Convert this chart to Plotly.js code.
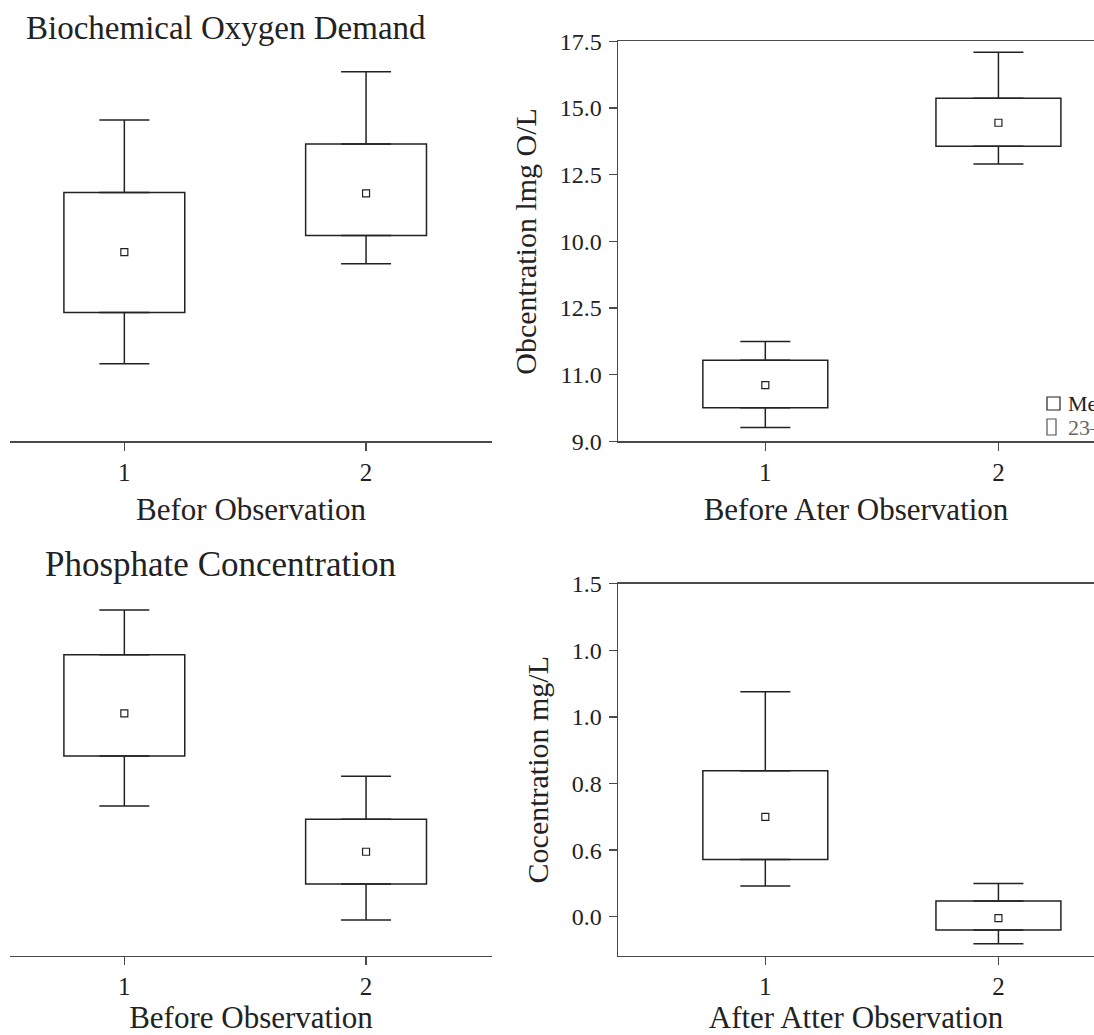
<!DOCTYPE html>
<html>
<head>
<meta charset="utf-8">
<script src="https://cdn.plot.ly/plotly-3.0.1.min.js"></script>
<style>
html,body{margin:0;padding:0;overflow:hidden;background:#fff;}
#chart{width:1094px;height:1035px;}
</style>
</head>
<body>
<div id="chart"></div>
<script>
// ---- data ----
const groups = [1, 2];

// Top-left: Biochemical Oxygen Demand (no y axis shown)
const bodBeforeUpper = [12.05, 13.86];
const bodBeforeQ3    = [9.33, 11.15];
const bodBeforeMean  = [7.10, 9.30];
const bodBeforeQ1    = [4.83, 7.72];
const bodBeforeLower = [2.91, 6.66];

// Top-right: Obcentration lmg O/L (axis positions)
const bodAfterUpper = [6.25, 17.09];
const bodAfterQ3    = [5.54, 15.37];
const bodAfterMean  = [4.61, 14.45];
const bodAfterQ1    = [3.76, 13.57];
const bodAfterLower = [3.02, 12.90];
const bodTickVals   = [2.5, 5, 7.5, 10, 12.5, 15, 17.5];
const bodTickText   = ["9.0", "11.0", "12.5", "10.0", "12.5", "15.0", "17.5"];

// Bottom-left: Phosphate Concentration (no y axis shown)
const phBeforeUpper = [1.859, 0.965];
const phBeforeQ3    = [1.618, 0.733];
const phBeforeMean  = [1.303, 0.559];
const phBeforeQ1    = [1.074, 0.385];
const phBeforeLower = [0.805, 0.192];

// Bottom-right: Cocentration mg/L (axis positions)
const phAfterUpper = [1.0135, 0.150];
const phAfterQ3    = [0.658, 0.0707];
const phAfterMean  = [0.450, -0.006];
const phAfterQ1    = [0.2583, -0.060];
const phAfterLower = [0.138, -0.1216];
const phTickVals   = [0, 0.3, 0.6, 0.9, 1.2, 1.5];
const phTickText   = ["0.0", "0.6", "0.8", "1.0", "1.0", "1.5"];

const xTickText = ["1", "2"];
const legendLabels = ["Mean", "23–75%"];

// ---- styling ----
const FONT = "Liberation Serif, Times New Roman, serif";
const INK = "#222";
const AX = "#4a4a4a";
const LW = 1.5;
const W = 1094, H = 1035;

// box body (q1..q3) as an outlined bar, whiskers as error bars, mean as a marker
function boxPlot(xa, ya, q1, q3, lo, hi, mean, boxW, capHalf) {
  const zeros = q1.map(() => 0);
  const body = {
    type: "bar", xaxis: xa, yaxis: ya, x: groups,
    base: q1, y: q3.map((v, i) => v - q1[i]), width: boxW,
    marker: {color: "rgba(255,255,255,0)", line: {color: INK, width: LW}},
    showlegend: false, hoverinfo: "skip"
  };
  const upperWhisker = {
    type: "scatter", mode: "markers", xaxis: xa, yaxis: ya, x: groups, y: q3,
    marker: {size: 1, opacity: 0},
    error_y: {type: "data", symmetric: false, array: hi.map((v, i) => v - q3[i]), arrayminus: zeros,
              width: capHalf, thickness: LW, color: INK},
    showlegend: false, hoverinfo: "skip"
  };
  const lowerWhisker = {
    type: "scatter", mode: "markers", xaxis: xa, yaxis: ya, x: groups, y: q1,
    marker: {size: 1, opacity: 0},
    error_y: {type: "data", symmetric: false, array: zeros, arrayminus: q1.map((v, i) => v - lo[i]),
              width: capHalf, thickness: LW, color: INK},
    showlegend: false, hoverinfo: "skip"
  };
  const meanPts = {
    type: "scatter", mode: "markers", xaxis: xa, yaxis: ya, x: groups, y: mean,
    marker: {symbol: "square-open", size: 7, color: INK, line: {width: 1.2, color: INK}},
    showlegend: false, hoverinfo: "skip"
  };
  return [body, upperWhisker, lowerWhisker, meanPts];
}

const data = [].concat(
  boxPlot("x",  "y",  bodBeforeQ1, bodBeforeQ3, bodBeforeLower, bodBeforeUpper, bodBeforeMean, 0.5, 25),
  boxPlot("x2", "y2", bodAfterQ1,  bodAfterQ3,  bodAfterLower,  bodAfterUpper,  bodAfterMean,  0.536, 25),
  boxPlot("x3", "y3", phBeforeQ1,  phBeforeQ3,  phBeforeLower,  phBeforeUpper,  phBeforeMean,  0.5, 25),
  boxPlot("x4", "y4", phAfterQ1,   phAfterQ3,   phAfterLower,   phAfterUpper,   phAfterMean,   0.536, 25)
);

const px = v => v / W;
const py = v => 1 - v / H;

const tickFont = {family: FONT, size: 24, color: INK};
const axTitleFont = {family: FONT, size: 31, color: INK};

function xAxis(domain, range, anchor, title, mirror) {
  return {
    domain: domain, range: range, anchor: anchor,
    tickvals: groups, ticktext: xTickText,
    ticks: "outside", ticklen: 8, tickwidth: 1.4, tickcolor: AX,
    showline: true, linecolor: AX, linewidth: 1.5, mirror: mirror,
    showgrid: false, zeroline: false, tickfont: {family: FONT, size: 25, color: INK},
    ticklabelstandoff: 0,
    title: {text: title, font: axTitleFont, standoff: 13},
    fixedrange: true
  };
}
function yHidden(domain, range, anchor) {
  return {domain: domain, range: range, anchor: anchor, visible: false, fixedrange: true};
}
function yAxis(domain, range, anchor, vals, text, title) {
  return {
    domain: domain, range: range, anchor: anchor,
    tickvals: vals, ticktext: text,
    ticks: "outside", ticklen: 8, tickwidth: 1.4, tickcolor: AX,
    showline: true, linecolor: AX, linewidth: 1.5,
    showgrid: false, zeroline: false, tickfont: tickFont,
    ticklabelstandoff: 2,
    title: {text: title, font: {family: FONT, size: 30, color: INK}, standoff: 14},
    fixedrange: true
  };
}

const xLeft = [px(10), px(492)];
const xRight = [px(618), 1];
const yTop = [py(441.4), py(41.4)];
const yBot = [py(955.7), py(583.7)];

const layout = {
  width: W, height: H,
  margin: {l: 0, r: 0, t: 0, b: 0},
  paper_bgcolor: "#fff", plot_bgcolor: "rgba(0,0,0,0)",
  font: {family: FONT, color: INK},
  showlegend: false, barmode: "overlay",
  xaxis:  xAxis(xLeft,  [0.527, 2.521], "y",  "Befor Observation", false),
  yaxis:  yHidden(yTop, [0, 15], "x"),
  xaxis2: xAxis(xRight, [0.368, 2.41], "y2", "Before Ater Observation", true),
  yaxis2: yAxis(yTop, [2.5, 17.5], "x2", bodTickVals, bodTickText, "Obcentration lmg O/L"),
  xaxis3: xAxis(xLeft,  [0.527, 2.521], "y3", "Before Observation", false),
  yaxis3: yHidden(yBot, [0, 2.0], "x3"),
  xaxis4: xAxis(xRight, [0.368, 2.41], "y4", "After Atter Observation", true),
  yaxis4: yAxis(yBot, [-0.1755, 1.5], "x4", phTickVals, phTickText, "Cocentration mg/L"),
  annotations: [
    {text: "Biochemical Oxygen Demand", xref: "paper", yref: "paper",
     x: px(24), y: py(28), xanchor: "left", yanchor: "middle", showarrow: false,
     font: {family: FONT, size: 33, color: INK}},
    {text: "Phosphate Concentration", xref: "paper", yref: "paper",
     x: px(43), y: py(564), xanchor: "left", yanchor: "middle", showarrow: false,
     font: {family: FONT, size: 35, color: INK}},
    {text: legendLabels[0], xref: "paper", yref: "paper",
     x: px(1066), y: py(403), xanchor: "left", yanchor: "middle", showarrow: false,
     font: {family: FONT, size: 22, color: INK}},
    {text: legendLabels[1], xref: "paper", yref: "paper",
     x: px(1066), y: py(427), xanchor: "left", yanchor: "middle", showarrow: false,
     font: {family: FONT, size: 22, color: "#666"}}
  ],
  shapes: [
    {type: "rect", xref: "paper", yref: "paper", x0: px(1047), x1: px(1060), y0: py(410), y1: py(397),
     line: {color: INK, width: 1.2}, fillcolor: "rgba(0,0,0,0)"},
    {type: "rect", xref: "paper", yref: "paper", x0: px(1047), x1: px(1056), y0: py(435), y1: py(419),
     line: {color: "#555", width: 1.2}, fillcolor: "rgba(0,0,0,0)"}
  ]
};

Plotly.newPlot("chart", data, layout, {displayModeBar: false, staticPlot: true});
</script>
</body>
</html>
